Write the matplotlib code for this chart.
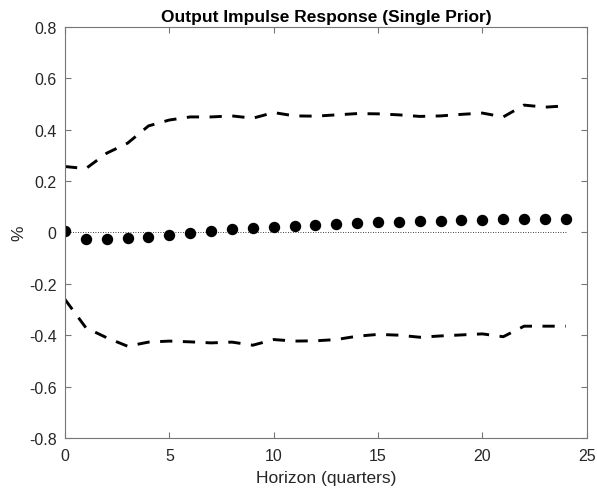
import matplotlib
matplotlib.use("Agg")
import matplotlib.pyplot as plt
import numpy as np

plt.rcParams['font.family'] = ['Liberation Sans', 'DejaVu Sans']

horizon = list(range(25))
response = [0.005, -0.025, -0.027, -0.023, -0.017, -0.009, -0.001, 0.005, 0.012,
            0.017, 0.022, 0.026, 0.029, 0.032, 0.035, 0.039, 0.042, 0.044, 0.046,
            0.047, 0.048, 0.050, 0.051, 0.051, 0.052]
upper = [0.256, 0.248, 0.308, 0.347, 0.414, 0.437, 0.449, 0.449, 0.453, 0.444,
         0.466, 0.453, 0.452, 0.457, 0.462, 0.461, 0.457, 0.451, 0.453, 0.459,
         0.464, 0.449, 0.495, 0.487, 0.492]
lower = [-0.261, -0.371, -0.410, -0.443, -0.427, -0.423, -0.426, -0.430, -0.427,
         -0.439, -0.417, -0.423, -0.422, -0.417, -0.404, -0.397, -0.400, -0.408,
         -0.403, -0.399, -0.395, -0.406, -0.365, -0.365, -0.365]

title = "Output Impulse Response (Single Prior)"
xlabel = "Horizon (quarters)"
ylabel = "%"

fig = plt.figure(figsize=(5.97, 4.89), dpi=100)
ax = fig.add_axes([65/597, 1 - 439/489, (586.7 - 65)/597, (439 - 27.7)/489])

dash = (0, (4.2, 3.6))
ax.plot(horizon, upper, color='black', lw=2.1, linestyle=dash)
ax.plot(horizon, lower, color='black', lw=2.1, linestyle=dash)
ax.plot(horizon, np.zeros(len(horizon)), color='black', lw=0.6, linestyle=(0, (1, 2)))
ax.plot(horizon, response, 'o', color='black', markersize=7.2, linestyle='none')

ax.set_xlim(0, 25)
ax.set_ylim(-0.8, 0.8)
ax.set_xticks([0, 5, 10, 15, 20, 25])
ax.set_yticks(np.arange(-0.8, 0.81, 0.2))
ax.set_yticklabels(['-0.8', '-0.6', '-0.4', '-0.2', '0', '0.2', '0.4', '0.6', '0.8'])

axcol = '#767676'
for s in ax.spines.values():
    s.set_color(axcol)
    s.set_linewidth(0.8)
ax.tick_params(direction='in', length=4, width=0.8, color=axcol, labelcolor='#262626',
               labelsize=11.5, top=True, right=True)
ax.tick_params(axis='x', pad=7)
ax.tick_params(axis='y', pad=6)

ax.set_title(title, fontsize=12.5, fontweight='bold', pad=4, color='black')
ax.set_xlabel(xlabel, fontsize=12.5, color='#262626', labelpad=5)
ax.set_ylabel(ylabel, fontsize=12.5, color='#262626', labelpad=2)

fig.savefig("out.png", dpi=100)
